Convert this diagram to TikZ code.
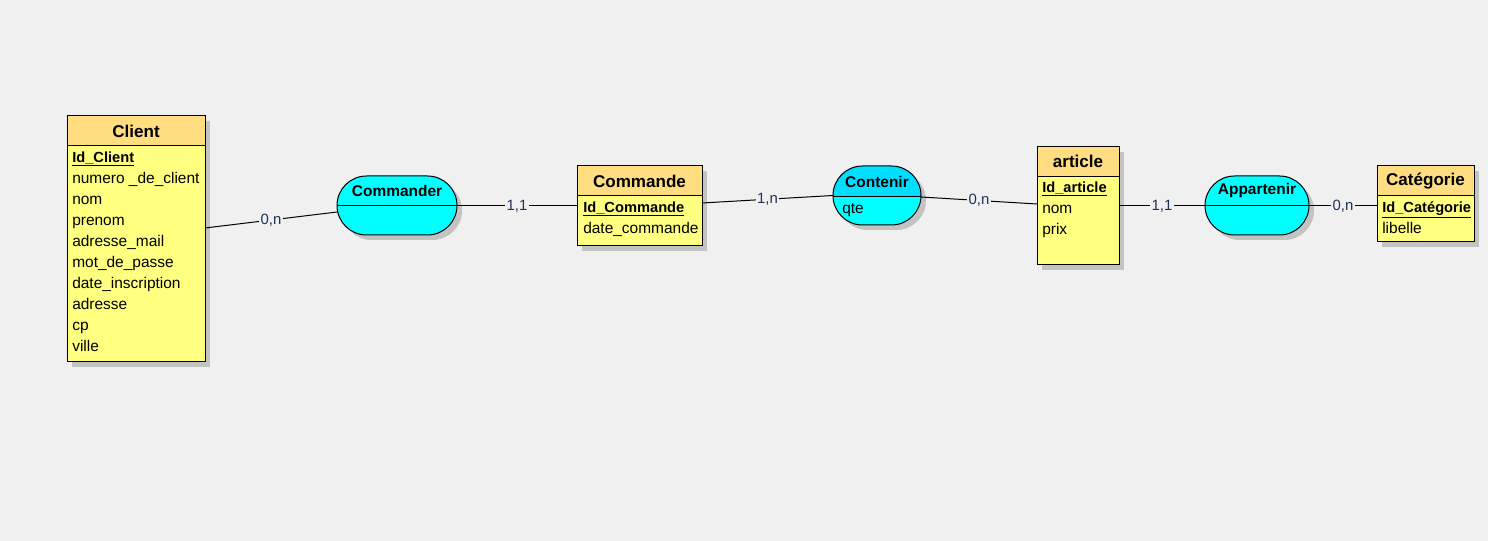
\documentclass[tikz,border=0pt]{standalone}
\usepackage{fontspec}
\setmainfont{Liberation Sans}
\usetikzlibrary{shapes.misc,shadows,calc}
\definecolor{bg}{RGB}{240,240,240}
\definecolor{entHead}{RGB}{255,221,128}
\definecolor{entBody}{RGB}{255,255,128}
\definecolor{assocc}{RGB}{0,255,255}
\definecolor{assocHead}{RGB}{0,221,255}
\definecolor{shadowc}{RGB}{195,195,195}
\definecolor{labc}{RGB}{30,50,90}
\newcommand{\idattr}[1]{{\fontsize{11}{14}\selectfont\bfseries\underline{#1}}}
\begin{document}
\begin{tikzpicture}[x=0.75pt,y=-0.75pt,
  shd/.style={drop shadow={shadow xshift=3.75pt,shadow yshift=-3.75pt,fill=shadowc,opacity=1}},
  entity/.style={rectangle,draw=black,line width=0.75pt,fill=entBody,inner sep=0pt,outer sep=0pt,shd,
    path picture={
      \fill[entHead] (path picture bounding box.north west) rectangle ([yshift=-22.5pt]path picture bounding box.north east);
      \draw[line width=0.75pt] ([yshift=-22.5pt]path picture bounding box.north west) -- ([yshift=-22.5pt]path picture bounding box.north east);}},
  assoc/.style={rounded rectangle,draw=black,line width=0.75pt,fill=assocc,inner sep=0pt,outer sep=0pt,shd,
    path picture={
      \draw[line width=0.75pt] (path picture bounding box.west) -- (path picture bounding box.east);}},
  assocattr/.style={rounded rectangle,draw=black,line width=0.75pt,fill=assocc,inner sep=0pt,outer sep=0pt,shd,
    path picture={
      \fill[assocHead] (path picture bounding box.north west) rectangle ([yshift=-1.125pt]path picture bounding box.east);
      \draw[line width=0.75pt] ([yshift=-1.125pt]path picture bounding box.west) -- ([yshift=-1.125pt]path picture bounding box.east);}},
  etitle/.style={font=\fontsize{12.8}{15}\selectfont\bfseries,inner sep=0pt},
  atitle/.style={font=\fontsize{11.6}{14}\selectfont\bfseries,inner sep=0pt},
  attr/.style={font=\fontsize{11.6}{14}\selectfont,anchor=west,inner sep=0pt,text height=1.5ex,text depth=.35ex,yshift=-0.75pt},
  conn/.style={draw=black,line width=0.75pt},
  card/.style={font=\fontsize{11.2}{13}\selectfont,text=labc,fill=bg,inner sep=1pt,midway}
]
\fill[bg] (0,0) rectangle (1488,541);

% Client
\node[entity,minimum width=103.5pt,minimum height=184.5pt] (client) at (136,239) {};
\node[etitle] (client-t) at (136,131) {Client};
\node[attr] (client-a1) at (72,157) {\idattr{Id\_Client}};
\node[attr] (client-a2) at (72,178) {numero \_de\_client};
\node[attr] (client-a3) at (72,199) {nom};
\node[attr] (client-a4) at (72,220) {prenom};
\node[attr] (client-a5) at (72,241) {adresse\_mail};
\node[attr] (client-a6) at (72,262) {mot\_de\_passe};
\node[attr] (client-a7) at (72,283) {date\_inscription};
\node[attr] (client-a8) at (72,304) {adresse};
\node[attr] (client-a9) at (72,325) {cp};
\node[attr] (client-a10) at (72,346) {ville};

% Commander
\node[assoc,minimum width=90pt,minimum height=44.25pt] (commander) at (397,205.5) {};
\node[atitle] (commander-t) at (397,191) {Commander};

% Commande
\node[entity,minimum width=93.75pt,minimum height=60pt] (commande) at (639.5,206) {};
\node[etitle] (commande-t) at (639.5,181) {Commande};
\node[attr] (commande-a1) at (583,207) {\idattr{Id\_Commande}};
\node[attr] (commande-a2) at (583,228) {date\_commande};

% Contenir
\node[assocattr,minimum width=66pt,minimum height=44.25pt] (contenir) at (877,195.5) {};
\node[atitle] (contenir-t) at (877,182) {Contenir};
\node[attr] (contenir-a1) at (842,208) {qte};

% article
\node[entity,minimum width=61.5pt,minimum height=88.5pt] (article) at (1078,206) {};
\node[etitle] (article-t) at (1078,161) {article};
\node[attr] (article-a1) at (1042,187) {\idattr{Id\_article}};
\node[attr] (article-a2) at (1042,208) {nom};
\node[attr] (article-a3) at (1042,229) {prix};

% Appartenir
\node[assoc,minimum width=78pt,minimum height=44.25pt] (appartenir) at (1257,205.5) {};
\node[atitle] (appartenir-t) at (1257,191) {Appartenir};

% Categorie
\node[entity,minimum width=72.75pt,minimum height=57pt] (categorie) at (1425.5,204) {};
\node[etitle] (categorie-t) at (1425.5,181) {Catégorie};
\node[attr] (categorie-a1) at (1382,207) {\idattr{Id\_Catégorie}};
\node[attr] (categorie-a2) at (1382,228) {libelle};

% connectors
\draw[conn] ($(client.east)+(0,-11)$) -- node[card] {0,n} ($(commander.west)+(0,6.5)$);
\draw[conn] ($(commander.east)+(0,0.5)$) -- node[card] {1,1} (commande.west);
\draw[conn] ($(commande.east)+(0,-3)$) -- node[card] {1,n} (contenir.west);
\draw[conn] ($(contenir.east)+(0,1.5)$) -- node[card] {0,n} ($(article.west)+(0,-2)$);
\draw[conn] (article.east) -- node[card] {1,1} ($(appartenir.west)+(0,0.5)$);
\draw[conn] ($(appartenir.east)+(0,0.5)$) -- node[card] {0,n} ($(categorie.west)+(0,2)$);
\end{tikzpicture}
\end{document}
